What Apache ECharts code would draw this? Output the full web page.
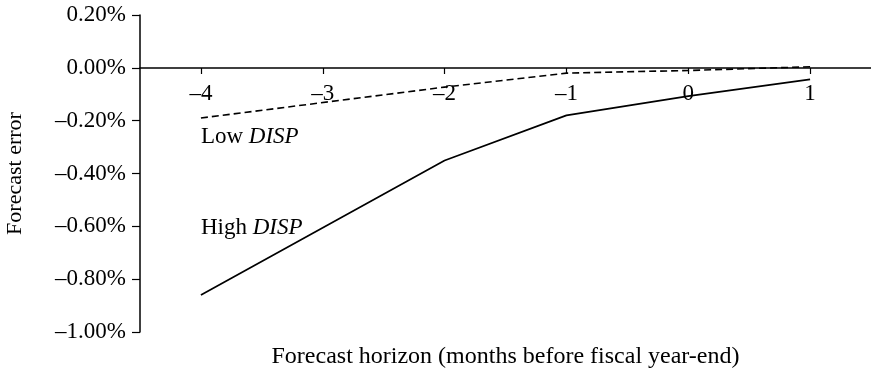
<!DOCTYPE html>
<html>
<head>
<meta charset="utf-8">
<script src="https://cdn.jsdelivr.net/npm/echarts@6/dist/echarts.min.js"></script>
<style>
html,body{margin:0;padding:0;background:#fff;}
#chart{width:871px;height:373px;}
</style>
</head>
<body>
<div id="chart"></div>
<script>
// Forecast horizon categories (months before fiscal year-end)
var horizons = ['–4', '–3', '–2', '–1', '0', '1'];
// Forecast error (%), null = no observation at that horizon
var lowDisp = [-0.19, null, -0.073, -0.02, -0.01, 0.004];
var highDisp = [-0.86, null, -0.351, -0.18, -0.107, -0.044];
// Annotation labels
var lowLabel = {x: '–4', y: -0.26};
var highLabel = {x: '–4', y: -0.605};

var FONT = '"Liberation Serif", "Times New Roman", serif';

function pct(v) {
  if (Math.abs(v) < 1e-9) v = 0;
  var s = Math.abs(v).toFixed(2) + '%';
  return (v < 0 ? '–' : '') + s;
}

var chart = echarts.init(document.getElementById('chart'), null, {renderer: 'canvas'});
var option = {
  animation: false,
  backgroundColor: '#fff',
  textStyle: {fontFamily: FONT, color: '#000'},
  grid: {left: 140, right: 0, top: 15, bottom: 41, containLabel: false, outerBoundsMode: 'none'},
  xAxis: {
    type: 'category',
    data: horizons,
    boundaryGap: true,
    position: 'bottom',
    offset: -264,
    name: 'Forecast horizon (months before fiscal year-end)',
    nameLocation: 'middle',
    nameGap: 277,
    nameTextStyle: {fontFamily: FONT, fontSize: 24, color: '#000'},
    axisLine: {show: true, onZero: false, lineStyle: {color: '#000', width: 1.5}},
    axisTick: {show: true, alignWithLabel: true, length: 6, lineStyle: {color: '#000', width: 1.2}},
    axisLabel: {fontFamily: FONT, fontSize: 23, color: '#000', margin: 14},
    splitLine: {show: false}
  },
  yAxis: {
    type: 'value',
    min: -1.0,
    max: 0.2,
    interval: 0.2,
    name: 'Forecast error',
    nameLocation: 'middle',
    nameGap: 114,
    nameRotate: 90,
    nameTextStyle: {fontFamily: FONT, fontSize: 22, color: '#000'},
    axisLine: {show: true, lineStyle: {color: '#000', width: 1.5}},
    axisTick: {show: true, length: 8, lineStyle: {color: '#000', width: 1.2}},
    axisLabel: {fontFamily: FONT, fontSize: 23, color: '#000', margin: 14, formatter: pct},
    splitLine: {show: false}
  },
  series: [
    {
      name: 'Low DISP',
      type: 'line',
      data: lowDisp,
      connectNulls: true,
      symbol: 'none',
      lineStyle: {color: '#000', width: 1.6, type: [7, 4]},
      markPoint: {
        symbol: 'circle', symbolSize: 0,
        data: [{coord: [lowLabel.x, lowLabel.y]}],
        label: {
          show: true, position: 'right', distance: 0,
          formatter: '{a|Low }{b|DISP}',
          rich: {
            a: {fontFamily: FONT, fontSize: 23, color: '#000'},
            b: {fontFamily: FONT, fontSize: 23, color: '#000', fontStyle: 'italic'}
          }
        }
      }
    },
    {
      name: 'High DISP',
      type: 'line',
      data: highDisp,
      connectNulls: true,
      symbol: 'none',
      lineStyle: {color: '#000', width: 1.7},
      markPoint: {
        symbol: 'circle', symbolSize: 0,
        data: [{coord: [highLabel.x, highLabel.y]}],
        label: {
          show: true, position: 'right', distance: 0,
          formatter: '{a|High }{b|DISP}',
          rich: {
            a: {fontFamily: FONT, fontSize: 23, color: '#000'},
            b: {fontFamily: FONT, fontSize: 23, color: '#000', fontStyle: 'italic'}
          }
        }
      }
    }
  ]
};
chart.setOption(option);
</script>
</body>
</html>
